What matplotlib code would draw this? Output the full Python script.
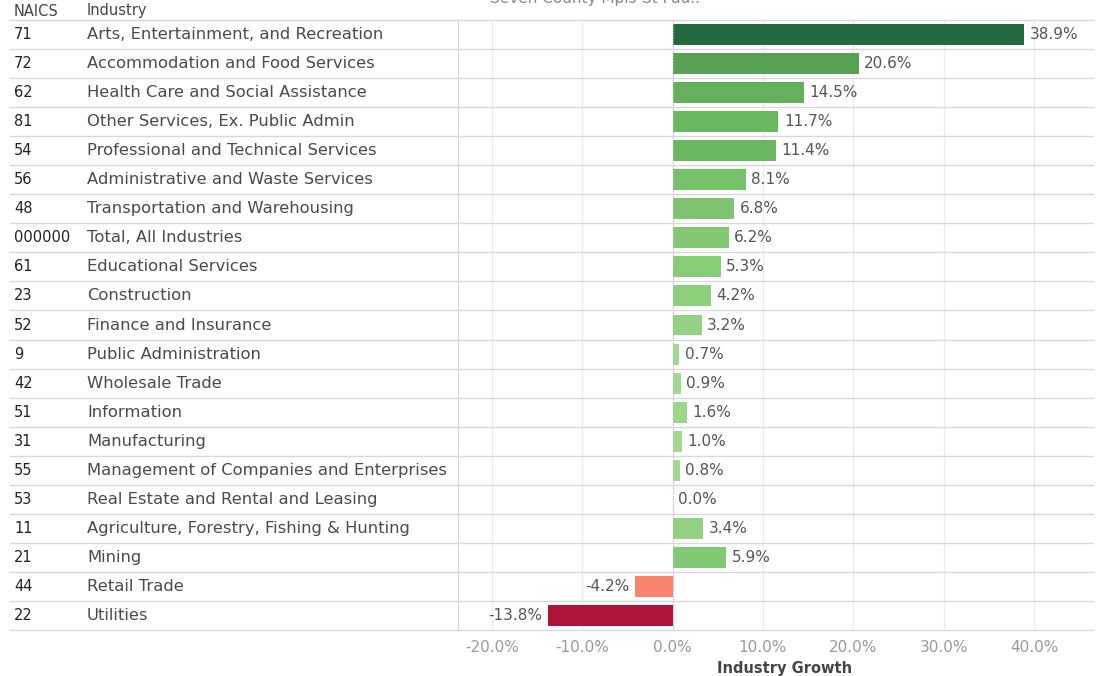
import matplotlib
matplotlib.use("Agg")
import matplotlib.pyplot as plt
from matplotlib.colors import LinearSegmentedColormap
from matplotlib.lines import Line2D
import numpy as np

naics = ["71", "72", "62", "81", "54", "56", "48", "000000", "61", "23", "52", "9",
         "42", "51", "31", "55", "53", "11", "21", "44", "22"]
industries = ["Arts, Entertainment, and Recreation", "Accommodation and Food Services",
              "Health Care and Social Assistance", "Other Services, Ex. Public Admin",
              "Professional and Technical Services", "Administrative and Waste Services",
              "Transportation and Warehousing", "Total, All Industries", "Educational Services",
              "Construction", "Finance and Insurance", "Public Administration", "Wholesale Trade",
              "Information", "Manufacturing", "Management of Companies and Enterprises",
              "Real Estate and Rental and Leasing", "Agriculture, Forestry, Fishing & Hunting",
              "Mining", "Retail Trade", "Utilities"]
growth = [38.9, 20.6, 14.5, 11.7, 11.4, 8.1, 6.8, 6.2, 5.3, 4.2, 3.2, 0.7, 0.9, 1.6, 1.0,
          0.8, 0.0, 3.4, 5.9, -4.2, -13.8]
xticks = [-20, -10, 0, 10, 20, 30, 40]

W, H = 1096, 676
plt.rcParams['font.family'] = ['DejaVu Sans']
fig = plt.figure(figsize=(W / 100, H / 100), dpi=100)

ax_l, ax_r, ax_top, ax_bot = 458, 1093, 20, 630
ax = fig.add_axes([ax_l / W, 1 - ax_bot / H, (ax_r - ax_l) / W, (ax_bot - ax_top) / H])

pos_cmap = LinearSegmentedColormap.from_list(
    "g", [(0, "#a6dc92"), (0.13, "#86cc76"), (0.26, "#6cba60"), (0.5, "#5aa454"), (1, "#236b3e")])
neg_cmap = LinearSegmentedColormap.from_list("r", [(0, "#fba58e"), (0.3, "#f8836e"), (1, "#ad1438")])

def col(v):
    if v >= 0:
        return pos_cmap(min(v / 38.9, 1))
    return neg_cmap(min(-v / 13.8, 1))

n = len(growth)
y = np.arange(n)
ax.barh(y, growth, height=0.72, color=[col(v) for v in growth], zorder=3)
ax.set_ylim(n - 0.5, -0.5)
xmin = -20 + (ax_l - 492) / 9.03
xmax = 40 + (ax_r - 1034) / 9.03
ax.set_xlim(xmin, xmax)
ax.set_xticks(xticks)
ax.set_xticklabels([f"{t:.1f}%" for t in xticks], color="#999999", fontsize=11)
ax.tick_params(axis="x", length=0, pad=7)
ax.set_yticks([])
for s in ["top", "right", "bottom"]:
    ax.spines[s].set_visible(False)
ax.spines["left"].set_color("#d4d4d4")
ax.grid(axis="x", color="#ececec", linewidth=1, zorder=0)
ax.axvline(0, color="#bbbbbb", linestyle=(0, (1, 1.5)), linewidth=0.8, zorder=4)
ax.set_xlabel("Industry Growth", fontsize=10.5, color="#444444", fontweight="semibold", va="center")
ax.xaxis.set_label_coords((785 - ax_l) / (ax_r - ax_l), -(669 - ax_bot) / (ax_bot - ax_top))

for i, v in enumerate(growth):
    if v >= 0:
        ax.annotate(f"{v:.1f}%", (v, i), xytext=(4, 0), textcoords="offset points",
                    ha="left", va="center", fontsize=11, color="#555555")
    else:
        ax.annotate(f"{v:.1f}%", (v, i), xytext=(-4, 0), textcoords="offset points",
                    ha="right", va="center", fontsize=11, color="#555555")

# row separators across full width
row_h = (ax_bot - ax_top) / n
for k in range(n + 1):
    yy = 1 - (ax_top + k * row_h) / H
    fig.add_artist(Line2D([10 / W, ax_r / W], [yy, yy], color="#d8d8d8", linewidth=1))

# left table text
for i in range(n):
    yc = 1 - (ax_top + (i + 0.5) * row_h) / H
    fig.text(14 / W, yc, naics[i], ha="left", va="center", fontsize=10.5,
             color="#222222", fontweight="medium")
    fig.text(87 / W, yc, industries[i], ha="left", va="center", fontsize=11.8, color="#4a4a4a")

fig.text(14 / W, 1 - 11 / H, "NAICS", ha="left", va="center", fontsize=10.5, color="#444444")
fig.text(87 / W, 1 - 11 / H, "Industry", ha="left", va="center", fontsize=10.5, color="#444444")
fig.text(490 / W, 1 - (-2) / H, "Seven County Mpls-St Pau..", ha="left", va="center",
         fontsize=11, color="#888888")

fig.savefig("out.png", dpi=100)
